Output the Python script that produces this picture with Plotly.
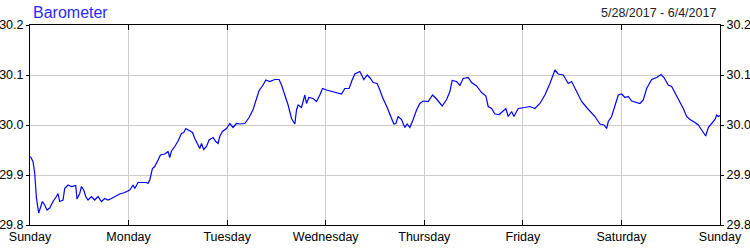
import plotly.graph_objects as go

# hours since Sunday 5/28/2017 00:00
hours = [0.1, 0.73, 1.14, 1.56, 2.12, 2.53, 3.02, 3.58, 4.14, 4.80, 5.60, 6.43, 6.82, 7.23, 8.04, 8.45,
         9.26, 10.08, 11.13, 11.45, 12.11, 12.52, 13.08, 13.57, 14.13, 14.96, 15.76, 16.56, 17.39, 18.20,
         19.0, 19.83, 20.63, 21.85, 23.07, 24.29, 25.09, 25.50, 26.31, 28.35, 28.74, 29.16, 29.81, 30.37,
         31.18, 31.76, 32.81, 33.61, 34.03, 34.44, 35.25, 36.05, 36.88, 37.44, 37.93, 38.49, 39.56, 40.12,
         40.92, 41.34, 41.75, 42.31, 42.97, 43.60, 44.58, 45.23, 45.79, 46.21, 46.86, 47.84, 48.64, 49.45,
         50.27, 51.08, 52.30, 53.34,
         54.32, 54.98, 55.78, 56.75, 57.41, 58.39, 59.60, 60.65, 61.24, 62.04, 62.84, 63.67, 64.48, 64.89,
         65.28, 66.11, 66.50, 66.91, 67.33, 67.89, 68.93, 69.76, 70.57, 71.22, 72.20, 73.41, 74.63, 75.85,
         76.65, 77.70, 78.29, 79.09, 80.31, 81.28, 82.09, 82.91, 83.55, 84.52, 85.18, 85.84, 86.81, 87.62,
         88.59, 89.08, 89.64, 90.46, 91.27, 91.83, 92.49, 93.29, 94.12, 94.92, 95.73, 96.95, 98.02, 98.99,
         100.36, 101.43, 102.23, 102.79, 103.86, 104.67, 105.47, 106.69, 107.52, 108.74, 109.95, 111.00,
         111.56, 112.39, 113.19, 114.24,
         115.87, 116.43, 117.26, 117.82, 118.87, 120.50, 121.72, 122.94, 124.15, 125.37, 126.59, 127.81,
         128.61, 129.83, 131.05, 131.87, 133.09, 134.31, 135.53, 136.33, 137.55, 138.77, 139.74, 140.40,
         140.79, 141.62, 142.42, 143.23, 144.05, 144.86, 145.66, 146.49, 148.51, 149.32, 150.14, 151.36,
         152.58, 153.63, 154.36, 155.40, 156.23, 157.28, 158.26, 159.06, 159.89, 160.69, 161.91, 162.71,
         163.54, 164.52, 165.15, 165.98, 166.78, 167.19, 167.58, 168.0]

pressure = [29.937, 29.927, 29.904, 29.854, 29.824, 29.837, 29.847, 29.840, 29.830, 29.834, 29.847, 29.857,
            29.863, 29.847, 29.850, 29.873, 29.880, 29.877, 29.879, 29.852, 29.863, 29.877, 29.870, 29.857,
            29.850, 29.857, 29.850, 29.857, 29.847, 29.853, 29.850, 29.853, 29.857, 29.862, 29.865, 29.870,
            29.880, 29.873, 29.885, 29.885, 29.883, 29.890, 29.913, 29.917, 29.930, 29.940, 29.942, 29.947,
            29.935, 29.948, 29.957, 29.968, 29.983, 29.985, 29.993, 29.990, 29.985, 29.973, 29.960, 29.953,
            29.963, 29.951, 29.957, 29.970, 29.975, 29.967, 29.963, 29.977, 29.987, 29.993, 30.003, 29.995,
            30.003, 30.002, 30.003, 30.015,
            30.031, 30.050, 30.069, 30.080, 30.090, 30.087, 30.091, 30.091, 30.080, 30.060, 30.040, 30.013,
            30.002, 30.030, 30.040, 30.035, 30.050, 30.060, 30.043, 30.055, 30.053, 30.047, 30.060, 30.073,
            30.070, 30.067, 30.065, 30.062, 30.073, 30.073, 30.087, 30.102, 30.107, 30.091, 30.100, 30.093,
            30.085, 30.083, 30.070, 30.055, 30.038, 30.020, 30.002, 30.003, 30.017, 30.011, 29.995, 30.002,
            29.995, 30.011, 30.030, 30.043, 30.048, 30.047, 30.060, 30.052, 30.038, 30.051, 30.067, 30.089,
            30.087, 30.079, 30.093, 30.095, 30.085, 30.078, 30.065, 30.058, 30.037, 30.033, 30.022, 30.021,
            30.033, 30.017, 30.027, 30.017, 30.033, 30.035, 30.037, 30.033, 30.043, 30.060, 30.083, 30.110,
            30.102, 30.100, 30.083, 30.087, 30.067, 30.047, 30.035, 30.027, 30.017, 30.002, 30.000, 29.993,
            30.007, 30.017, 30.040, 30.060, 30.062, 30.055, 30.057, 30.048, 30.043, 30.050, 30.073, 30.091,
            30.095, 30.101, 30.095, 30.080, 30.077, 30.060, 30.047, 30.033, 30.017, 30.011, 30.005, 30.000,
            29.990, 29.978, 29.995, 30.003, 30.011, 30.020, 30.017, 30.019]

day_ticks = [0, 24, 48, 72, 96, 120, 144, 168]
day_labels = ["Sunday", "Monday", "Tuesday", "Wednesday", "Thursday", "Friday", "Saturday", "Sunday"]
y_ticks = [29.8, 29.9, 30.0, 30.1, 30.2]
title_text = "Barometer"
date_text = "5/28/2017 - 6/4/2017"

FONT = "Liberation Sans, Arial, sans-serif"

fig = go.Figure()
fig.add_trace(go.Scatter(x=hours, y=pressure, mode="lines",
                         line=dict(color="#0000ff", width=1.2), hoverinfo="skip", showlegend=False))
fig.add_trace(go.Scatter(x=hours, y=pressure, mode="lines", yaxis="y2",
                         line=dict(color="rgba(0,0,0,0)", width=0), hoverinfo="skip", showlegend=False))

axis_font = dict(family=FONT, size=12.5, color="#000000")
fig.update_layout(
    width=750, height=250,
    margin=dict(l=30, r=30, t=25, b=25, autoexpand=False),
    paper_bgcolor="white", plot_bgcolor="white",
    xaxis=dict(range=[0, 168], tickvals=day_ticks, ticktext=day_labels, automargin=False,
               showgrid=True, gridcolor="#cccccc", gridwidth=1,
               showline=True, linecolor="black", linewidth=1, mirror="ticks",
               ticks="inside", ticklen=5, tickcolor="black", tickfont=axis_font,
               zeroline=False, fixedrange=True),
    yaxis=dict(range=[29.8, 30.2], tickvals=y_ticks, tickformat=".1f", automargin=False,
               showgrid=True, gridcolor="#cccccc", gridwidth=1,
               showline=True, linecolor="black", linewidth=1,
               ticks="outside", ticklen=3, tickcolor="black", tickfont=axis_font,
               zeroline=False, fixedrange=True),
    yaxis2=dict(range=[29.8, 30.2], tickvals=y_ticks, tickformat=".1f", overlaying="y", side="right",
                automargin=False, showgrid=False, showline=True, linecolor="black", linewidth=1,
                ticks="outside", ticklen=3, tickcolor="black", tickfont=axis_font,
                zeroline=False, fixedrange=True),
    annotations=[
        dict(text=title_text, xref="paper", yref="paper", x=0, y=1, xanchor="left", yanchor="bottom",
             xshift=1, yshift=2, showarrow=False, font=dict(family=FONT, size=16, color="#2a2aff")),
        dict(text=date_text, xref="paper", yref="paper", x=1, y=1, xanchor="right", yanchor="bottom",
             xshift=-2, yshift=3, showarrow=False, font=dict(family=FONT, size=12.5, color="#222222")),
    ],
)

fig.write_html("out.html")
